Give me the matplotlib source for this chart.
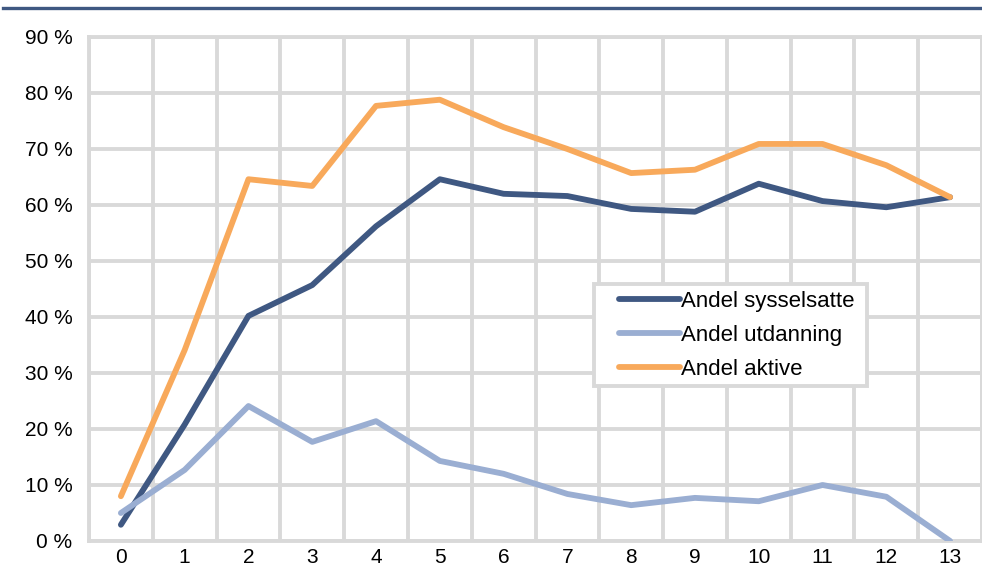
import matplotlib
matplotlib.use('Agg')
import matplotlib.pyplot as plt
from matplotlib.lines import Line2D
import numpy as np

plt.rcParams['font.family'] = ['Liberation Sans', 'DejaVu Sans']

# data
years = list(range(14))
sysselsatte = [2.9, 20.8, 40.2, 45.7, 56.2, 64.6, 62.0, 61.6, 59.3, 58.8, 63.8, 60.7, 59.6, 61.4]
utdanning = [5.0, 12.7, 24.1, 17.7, 21.4, 14.3, 12.0, 8.4, 6.4, 7.7, 7.1, 10.0, 7.9, 0.0]
aktive = [8.0, 34.1, 64.6, 63.4, 77.7, 78.8, 73.9, 70.0, 65.7, 66.3, 70.9, 70.9, 67.1, 61.4]
labels = ['Andel sysselsatte', 'Andel utdanning', 'Andel aktive']
colors = ['#3f5882', '#9aaed2', '#f8a95b']

grid_col = '#d9d9d9'

fig = plt.figure(figsize=(9.82, 5.75), dpi=100)
ax = fig.add_axes([89/982, 34/575, 1 - 89/982, 504/575])

for vals, lab, col in zip([sysselsatte, utdanning, aktive], labels, colors):
    ax.plot(years, vals, color=col, lw=4.2, label=lab, solid_capstyle='round',
            solid_joinstyle='round', zorder=3)

ax.set_xlim(-0.5, 13.5)
ax.set_ylim(0, 90)
ax.set_xticks(years)
ax.set_xticks(np.arange(-0.5, 14, 1), minor=True)
ax.set_yticks(range(0, 91, 10))
ax.set_yticklabels([f'{v} %' for v in range(0, 91, 10)])
ax.grid(True, which='minor', axis='x', color=grid_col, lw=2.8)
ax.grid(True, which='major', axis='y', color=grid_col, lw=2.8)
ax.tick_params(which='both', length=0, labelsize=15)
ax.tick_params(axis='y', pad=12)
ax.tick_params(axis='x', pad=5)
for s in ax.spines.values():
    s.set_color(grid_col)
    s.set_linewidth(2.8)

leg = ax.legend(loc='lower left', bbox_to_anchor=(0.566, 0.307, 0.305, 0.2),
                mode='expand', fontsize=16, frameon=True, fancybox=False,
                handlelength=3.56, handletextpad=0.05, labelspacing=0.58,
                borderpad=0.3, borderaxespad=0)
leg.get_frame().set_edgecolor(grid_col)
leg.get_frame().set_linewidth(2.8)
leg.get_frame().set_alpha(1)
# push the legend handles right, leaving a gap after the frame
for ln in leg.get_lines():
    xd = np.asarray(ln.get_xdata(), dtype=float)
    ln.set_xdata(np.linspace(xd[0] + 13, xd[-1], len(xd)))

# dark rule across the top
fig.add_artist(Line2D([3/982, 1], [1 - 8/575, 1 - 8/575], color='#3f5882', lw=2.4))

fig.savefig('out.png', dpi=100)
